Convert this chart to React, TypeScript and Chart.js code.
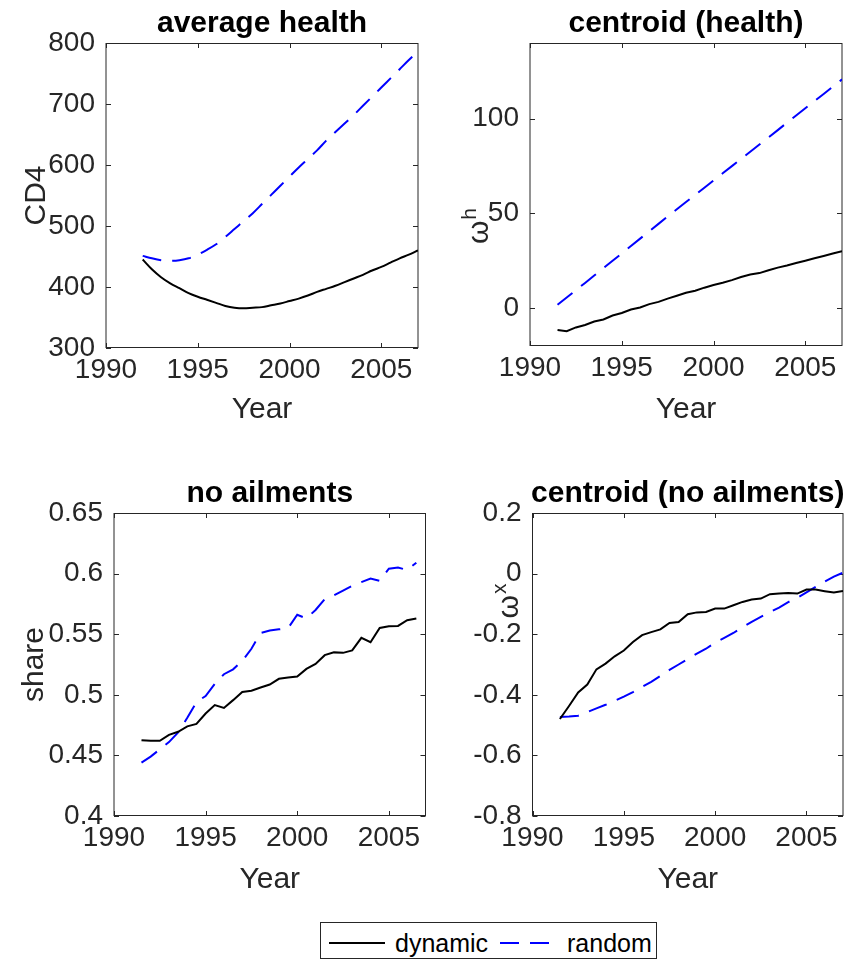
import React, { useEffect, useRef } from "react";
import { Chart, registerables } from "chart.js";

Chart.register(...registerables);

// ---------- data ----------
const seriesNames = ["dynamic", "random"];

// half-year grids
const yearsFrom1992 = [
  1992, 1992.5, 1993, 1993.5, 1994, 1994.5, 1995, 1995.5, 1996, 1996.5, 1997, 1997.5,
  1998, 1998.5, 1999, 1999.5, 2000, 2000.5, 2001, 2001.5, 2002, 2002.5, 2003, 2003.5,
  2004, 2004.5, 2005, 2005.5, 2006, 2006.5, 2007,
];
const yearsTo2007 = [
  1991.5, 1992, 1992.5, 1993, 1993.5, 1994, 1994.5, 1995, 1995.5, 1996, 1996.5, 1997,
  1997.5, 1998, 1998.5, 1999, 1999.5, 2000, 2000.5, 2001, 2001.5, 2002, 2002.5, 2003,
  2003.5, 2004, 2004.5, 2005, 2005.5, 2006, 2006.5, 2007,
];
const yearsTo2006h = [
  1991.5, 1992, 1992.5, 1993, 1993.5, 1994, 1994.5, 1995, 1995.5, 1996, 1996.5, 1997,
  1997.5, 1998, 1998.5, 1999, 1999.5, 2000, 2000.5, 2001, 2001.5, 2002, 2002.5, 2003,
  2003.5, 2004, 2004.5, 2005, 2005.5, 2006, 2006.5,
];

// average health (CD4)
const avgHealthDynamic = [
  445, 429, 416, 406, 398, 390, 384, 379, 374, 369, 366, 365, 366, 367, 370, 373, 377, 381,
  386, 392, 397, 402, 408, 414, 420, 427, 433, 440, 447, 453, 460,
];
const avgHealthRandom = [
  451, 447, 444, 443, 444, 447, 453, 461, 470, 482, 495, 508, 521, 536, 551, 566, 581, 596,
  610, 624, 640, 654, 668, 682, 697, 712, 727, 742, 757, 772, 786,
];

// centroid (health)
const centHealthDynamic = [
  -11.5, -12.2, -10.2, -8.9, -7.1, -6.0, -3.9, -2.6, -0.7, 0.3, 2.1, 3.3, 5.0, 6.5, 8.1, 9.2,
  10.8, 12.2, 13.4, 14.8, 16.4, 17.8, 18.5, 20.0, 21.4, 22.5, 23.8, 25.0, 26.3, 27.5, 28.8, 30.1,
];
const centHealthRandom = [
  1.8, 5.6, 9.5, 13.3, 17.2, 21.1, 25.0, 28.9, 32.8, 36.7, 40.6, 44.5, 48.4, 52.2, 56.0, 59.8,
  63.6, 67.4, 71.2, 75.0, 78.8, 82.6, 86.4, 90.2, 94.0, 97.9, 101.7, 105.5, 109.3, 113.1, 116.9, 120.8,
];

// no ailments (share)
const noAilDynamic = [
  0.4626, 0.462, 0.462, 0.467, 0.4695, 0.474, 0.476, 0.4846, 0.4915, 0.4892, 0.4956, 0.5024,
  0.5033, 0.506, 0.5085, 0.5132, 0.5143, 0.515, 0.5214, 0.5255, 0.5327, 0.535, 0.5346, 0.5366,
  0.547, 0.5434, 0.5552, 0.5566, 0.5568, 0.5615, 0.5629,
];
const noAilRandom = [
  0.444, 0.449, 0.455, 0.461, 0.469, 0.481, 0.494, 0.499, 0.509, 0.517, 0.521, 0.528, 0.538,
  0.551, 0.553, 0.554, 0.555, 0.566, 0.563, 0.57, 0.579, 0.582, 0.586, 0.59, 0.593, 0.596,
  0.594, 0.604, 0.605, 0.603, 0.609,
];

// centroid (no ailments)
const centNoAilDynamic = [
  -0.48, -0.437, -0.392, -0.366, -0.316, -0.297, -0.273, -0.254, -0.226, -0.203, -0.193, -0.184,
  -0.163, -0.16, -0.134, -0.128, -0.1265, -0.1155, -0.1155, -0.1045, -0.0935, -0.0858, -0.0825,
  -0.068, -0.066, -0.064, -0.066, -0.0528, -0.0528, -0.058, -0.0627, -0.0573,
];
const centNoAilRandom = [
  -0.473, -0.472, -0.469, -0.457, -0.445, -0.433, -0.42, -0.406, -0.391, -0.374, -0.357, -0.338,
  -0.318, -0.3, -0.282, -0.264, -0.248, -0.228, -0.212, -0.196, -0.177, -0.159, -0.143, -0.127,
  -0.112, -0.094, -0.08, -0.062, -0.044, -0.026, -0.01, 0.003,
];

// ticks
const xTicks = [1990, 1995, 2000, 2005];
const cd4Ticks = [300, 400, 500, 600, 700, 800];
const omegaHTicks = [0, 50, 100];
const shareTicks = [0.4, 0.45, 0.5, 0.55, 0.6, 0.65];
const omegaXTicks = [-0.8, -0.6, -0.4, -0.2, 0, 0.2];

// ---------- styles ----------
const FONT = "'Liberation Sans', Arial, Helvetica, sans-serif";
const AX_COLOR = "#262626";
const TICK_SIZE = 28;
const LABEL_SIZE = 30;
const TITLE_SIZE = 30;

const matlabAxes = {
  id: "matlabAxes",
  beforeDatasetsDraw(chart: any) {
    const { ctx, chartArea, scales } = chart;
    const { left, top, right, bottom } = chartArea;
    const tl = 5;
    ctx.save();
    ctx.strokeStyle = AX_COLOR;
    ctx.lineWidth = 1;
    ctx.beginPath();
    ctx.moveTo(left, Math.round(top) + 0.5);
    ctx.lineTo(right, Math.round(top) + 0.5);
    ctx.moveTo(left, Math.round(bottom) - 0.5);
    ctx.lineTo(right, Math.round(bottom) - 0.5);
    ctx.moveTo(left, top);
    ctx.lineTo(left, bottom);
    ctx.moveTo(right, top);
    ctx.lineTo(right, bottom);
    for (const t of scales.x.ticks) {
      const px = Math.round(scales.x.getPixelForValue(t.value)) + 0.5;
      ctx.moveTo(px, bottom);
      ctx.lineTo(px, bottom - tl);
      ctx.moveTo(px, top);
      ctx.lineTo(px, top + tl);
    }
    for (const t of scales.y.ticks) {
      const py = Math.round(scales.y.getPixelForValue(t.value)) + 0.5;
      ctx.moveTo(left, py);
      ctx.lineTo(left + tl, py);
      ctx.moveTo(right, py);
      ctx.lineTo(right - tl, py);
    }
    ctx.stroke();
    ctx.restore();
  },
  afterDraw(chart: any, _args: any, opts: any) {
    const { ctx, chartArea } = chart;
    ctx.save();
    ctx.fillStyle = "#000";
    ctx.font = `bold ${TITLE_SIZE}px ${FONT}`;
    ctx.textAlign = "center";
    ctx.textBaseline = "alphabetic";
    ctx.fillText(opts.title, (chartArea.left + chartArea.right) / 2, opts.titleBaseline);
    if (opts.supLabel) {
      const { base, sup, x, y } = opts.supLabel;
      ctx.translate(x, y);
      ctx.rotate(-Math.PI / 2);
      ctx.fillStyle = AX_COLOR;
      ctx.textAlign = "left";
      ctx.font = `${LABEL_SIZE}px ${FONT}`;
      const wb = ctx.measureText(base).width;
      ctx.font = `${Math.round(LABEL_SIZE * 0.7)}px ${FONT}`;
      const ws = ctx.measureText(sup).width;
      const x0 = -(wb + ws + 1) / 2;
      ctx.font = `${LABEL_SIZE}px ${FONT}`;
      ctx.fillText(base, x0, 0);
      ctx.font = `${Math.round(LABEL_SIZE * 0.7)}px ${FONT}`;
      ctx.fillText(sup, x0 + wb + 1, -12);
    }
    ctx.restore();
  },
};

type Spec = {
  left: number;
  top: number;
  width: number;
  height: number;
  area: [number, number, number, number];
  title: string;
  titleBaseline: number;
  xs: number[];
  dyn: number[];
  rnd: number[];
  yMin: number;
  yMax: number;
  yTicks: number[];
  yLabel?: string;
  yLabelPad?: number;
  supLabel?: { base: string; sup: string; x: number; y: number };
  xTitlePad: number;
  smooth?: boolean;
};

// positions below are in page pixels
const specs: Spec[] = [
  {
    left: 0, top: 0, width: 427, height: 440,
    area: [106, 43, 418, 348],
    title: "average health", titleBaseline: 32,
    xs: yearsFrom1992, dyn: avgHealthDynamic, rnd: avgHealthRandom,
    yMin: 300, yMax: 800, yTicks: cd4Ticks, yLabel: "CD4", yLabelPad: 19,
    xTitlePad: 12, smooth: true,
  },
  {
    left: 427, top: 0, width: 428, height: 440,
    area: [530, 43, 842, 346],
    title: "centroid (health)", titleBaseline: 32,
    xs: yearsTo2007, dyn: centHealthDynamic, rnd: centHealthRandom,
    yMin: -20, yMax: 140, yTicks: omegaHTicks,
    supLabel: { base: "ω", sup: "h", x: 488, y: 226 },
    xTitlePad: 12,
  },
  {
    left: 0, top: 440, width: 427, height: 480,
    area: [114, 513, 425.5, 816],
    title: "no ailments", titleBaseline: 502,
    xs: yearsTo2006h, dyn: noAilDynamic, rnd: noAilRandom,
    yMin: 0.4, yMax: 0.65, yTicks: shareTicks, yLabel: "share", yLabelPad: 17,
    xTitlePad: 22,
  },
  {
    left: 427, top: 440, width: 428, height: 480,
    area: [532.5, 513, 843, 816],
    title: "centroid (no ailments)", titleBaseline: 502,
    xs: yearsTo2007, dyn: centNoAilDynamic, rnd: centNoAilRandom,
    yMin: -0.8, yMax: 0.2, yTicks: omegaXTicks,
    supLabel: { base: "ω", sup: "x", x: 518, y: 601 },
    xTitlePad: 22,
  },
];

function Panel({ spec }: { spec: Spec }) {
  const ref = useRef<HTMLCanvasElement>(null);
  useEffect(() => {
    const canvas = ref.current;
    if (!canvas) return;
    const [pl, pt, pr, pb] = spec.area;
    const L = pl - spec.left;
    const T = pt - spec.top;
    const R = pr - spec.left;
    const B = pb - spec.top;
    const tickFont = { family: FONT, size: TICK_SIZE };
    const labelFont = { family: FONT, size: LABEL_SIZE };
    const sup = spec.supLabel
      ? { ...spec.supLabel, x: spec.supLabel.x - spec.left, y: spec.supLabel.y - spec.top }
      : undefined;
    const chart = new Chart(canvas, {
      type: "line",
      data: {
        datasets: [
          {
            label: seriesNames[0],
            data: spec.xs.map((x, i) => ({ x, y: spec.dyn[i] })),
            borderColor: "#000000",
            borderWidth: 2,
            pointRadius: 0,
            fill: false,
            cubicInterpolationMode: spec.smooth ? "monotone" : "default",
          },
          {
            label: seriesNames[1],
            data: spec.xs.map((x, i) => ({ x, y: spec.rnd[i] })),
            borderColor: "#0000ff",
            borderWidth: 2,
            borderDash: [19, 11],
            pointRadius: 0,
            fill: false,
            cubicInterpolationMode: spec.smooth ? "monotone" : "default",
          },
        ],
      },
      options: {
        responsive: false,
        animation: false,
        devicePixelRatio: 1,
        events: [],
        layout: { padding: { left: 0, top: T, right: spec.width - R, bottom: 0 } },
        plugins: {
          legend: { display: false },
          tooltip: { enabled: false },
          title: { display: false },
          matlabAxes: {
            title: spec.title,
            titleBaseline: spec.titleBaseline - spec.top,
            supLabel: sup,
          },
        } as any,
        scales: {
          x: {
            type: "linear",
            min: 1990,
            max: 2007,
            afterBuildTicks: (s: any) => {
              s.ticks = xTicks.map((v) => ({ value: v }));
            },
            afterFit: (s: any) => {
              s.height = spec.height - B;
            },
            grid: { display: false, drawTicks: false },
            border: { display: false },
            ticks: {
              font: tickFont,
              color: AX_COLOR,
              padding: 5,
              maxRotation: 0,
              autoSkip: false,
              callback: (v: any) => String(v),
            },
            title: {
              display: true,
              text: "Year",
              font: labelFont,
              color: AX_COLOR,
              padding: { top: 0, bottom: spec.xTitlePad },
            },
          },
          y: {
            type: "linear",
            min: spec.yMin,
            max: spec.yMax,
            afterBuildTicks: (s: any) => {
              s.ticks = spec.yTicks.map((v) => ({ value: v }));
            },
            afterFit: (s: any) => {
              s.width = L;
            },
            grid: { display: false, drawTicks: false },
            border: { display: false },
            ticks: {
              font: tickFont,
              color: AX_COLOR,
              padding: 11,
              autoSkip: false,
              callback: (v: any) => String(v),
            },
            title: {
              display: !!spec.yLabel,
              text: spec.yLabel || "",
              font: labelFont,
              color: AX_COLOR,
              padding: { top: spec.yLabelPad || 0, bottom: 0 },
            },
          },
        },
      } as any,
      plugins: [matlabAxes],
    });
    return () => chart.destroy();
  }, [spec]);
  return (
    <canvas
      ref={ref}
      width={spec.width}
      height={spec.height}
      style={{
        position: "absolute",
        left: spec.left,
        top: spec.top,
        width: spec.width,
        height: spec.height,
      }}
    />
  );
}

function Legend() {
  return (
    <svg
      width={337}
      height={37}
      style={{ position: "absolute", left: 320, top: 922 }}
    >
      <rect x={0.5} y={0.5} width={336} height={36} fill="#ffffff" stroke={AX_COLOR} strokeWidth={1} />
      <line x1={9} y1={21} x2={65} y2={21} stroke="#000000" strokeWidth={2} />
      <text x={75} y={30} fontFamily={FONT} fontSize={25} fill="#000000">
        {seriesNames[0]}
      </text>
      <line x1={180} y1={21} x2={230} y2={21} stroke="#0000ff" strokeWidth={2} strokeDasharray="19 11" />
      <text x={247} y={30} fontFamily={FONT} fontSize={25} fill="#000000">
        {seriesNames[1]}
      </text>
    </svg>
  );
}

export default function App() {
  return (
    <div
      style={{
        position: "absolute",
        left: 0,
        top: 0,
        width: 855,
        height: 959,
        background: "#ffffff",
        overflow: "hidden",
      }}
    >
      {specs.map((s, i) => (
        <Panel key={i} spec={s} />
      ))}
      <Legend />
    </div>
  );
}
